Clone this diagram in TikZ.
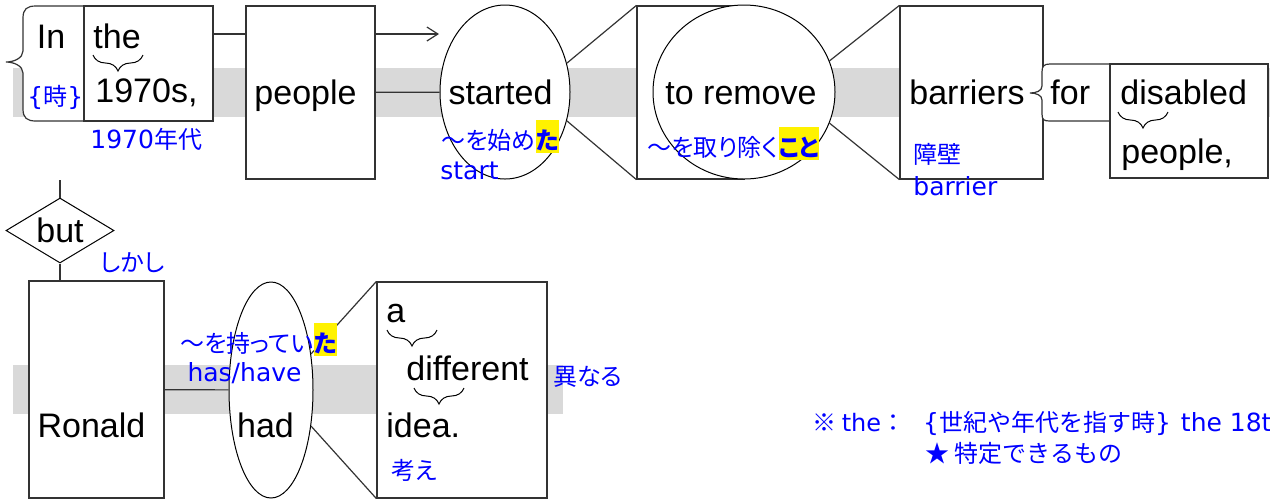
\documentclass[tikz,border=0pt]{standalone}
\usepackage{fontspec}
\setmainfont{Liberation Sans}
\newfontfamily\jpfont[RawFeature=+palt]{Noto Sans CJK JP}
\newfontfamily\jpnote{Noto Sans CJK JP}
\newfontfamily\latfont{DejaVu Sans}
\usetikzlibrary{shapes.geometric,arrows.meta,decorations.pathreplacing}

\begin{document}
\begin{tikzpicture}[x=0.5pt,y=-0.5pt,font=\fontsize{17}{20}\selectfont]
	\tikzstyle{Band}	= [fill=black!15]
	\tikzstyle{Box}		= [rectangle, draw=black!80, fill=white, line width=0.6pt, inner sep=0pt]
	\tikzstyle{Oval}	= [ellipse, draw=black, fill=white, line width=0.5pt, inner sep=0pt]
	\tikzstyle{Link}	= [draw=black!80, line width=0.6pt]
	\tikzstyle{Brace}	= [decorate, decoration={brace, mirror, amplitude=8pt}, line width=0.5pt]
	\tikzstyle{Word}	= [inner sep=0pt, anchor=base west]
	\tikzstyle{Ja}		= [inner sep=0pt, anchor=base west, text=blue, font=\jpfont\fontsize{12}{14}\selectfont]
	\tikzstyle{En}		= [Ja, font=\latfont\fontsize{12.5}{14}\selectfont]
	\tikzstyle{Note}	= [Ja, font=\jpnote\fontsize{12}{14}\selectfont]
	\tikzstyle{Hl}		= [Ja, fill=yellow, text height=14.75pt, text depth=1.75pt, font=\jpfont\bfseries\fontsize{12}{14}\selectfont]

	\useasboundingbox (0,0) rectangle (1270,500);

	% gray bands
	\fill[Band] (13,68) rectangle (1270,117);
	\fill[Band] (13,365) rectangle (563,414);

	% first sentence
	\draw[Link, fill=white] (84,6) -- (36,6) .. controls (27,6) and (23,9) .. (23,18) -- (23,51) .. controls (23,58) and (14,62) .. (6,62) .. controls (14,62) and (23,66) .. (23,73) -- (23,109) .. controls (23,118) and (27,121) .. (36,121) -- (84,121) -- cycle;
	\node (theCell) at (148.5,63.5) [Box, minimum width=64.5pt, minimum height=57.5pt] {};
	\node (people) at (310.5,92.5) [Box, minimum width=64.5pt, minimum height=86.5pt] {};
	\node (started) at (505,92) [Oval, minimum width=65pt, minimum height=87pt] {};
	\node (toBox) at (690.5,92.5) [Box, minimum width=53.5pt, minimum height=86.5pt] {};
	\node (remove) at (744,92) [Oval, minimum width=91pt, minimum height=87pt] {};
	\node (barriers) at (971.5,92.5) [Box, minimum width=71.5pt, minimum height=86.5pt] {};
	\draw[Link, fill=white] (1110,64) -- (1050,64) .. controls (1044,64) and (1042,66) .. (1042,72) -- (1042,86) .. controls (1042,91) and (1036,93) .. (1030,93) .. controls (1036,93) and (1042,95) .. (1042,100) -- (1042,114) .. controls (1042,120) and (1044,121) .. (1050,121) -- (1110,121) -- cycle;
	\node (disBox) at (1189,121) [Box, minimum width=79pt, minimum height=57pt] {};

	\coordinate (arrY) at (0,34);
	\coordinate (arrTip) at (439,34);
	\draw[Link] (theCell.east |- arrY) -- (people.west |- arrY);
	\draw[Link, -{Straight Barb[length=5.5pt, width=7pt]}] (people.east |- arrY) -- (arrTip);
	\draw[Link] (people) -- (started);
	\draw[Link] (started.25) -- (toBox.north west);
	\draw[Link] (started.-25) -- (toBox.south west);
	\draw[Link] (remove.20) -- (barriers.north west);
	\draw[Link] (remove.-20) -- (barriers.south west);

	\node (wIn) at (51,48) [Word, anchor=base] {In};
	\node (wThe) at (93,48) [Word] {the};
	\draw[Brace] (93,55) -- (143,55);
	\node (w1970) at (95,102) [Word] {1970s,};
	\node (wPeople) at (305.5,104) [Word, anchor=base] {people};
	\node (wStarted) at (500.5,104) [Word, anchor=base] {started};
	\node (wRemove) at (741,104) [Word, anchor=base] {to remove};
	\node (wBarriers) at (909,104) [Word] {barriers};
	\node (wFor) at (1050,104) [Word] {for};
	\node (wDisabled) at (1120,104) [Word] {disabled};
	\draw[Brace] (1118,112) -- (1168,112);
	\node (wPeople2) at (1121,163) [Word] {people,};

	\node (jaToki) at (27,105.5) [Ja] {{\latfont\fontsize{12.5}{14}\selectfont\{}時{\latfont\fontsize{12.5}{14}\selectfont\}}};
	\node (ja1970) at (90,148) [Ja] {{\latfont\fontsize{12.5}{14}\selectfont 1970}年代};
	\node (jaStart) at (441,149.5) [Ja] {〜を始め};
	\node (hlStart) at (jaStart.base east) [Hl] {た};
	\node (enStart) at (440,179) [En] {start};
	\node (jaRemove) at (647,156.5) [Ja] {〜を取り除く};
	\node (hlRemove) at (jaRemove.base east) [Hl] {こと};
	\node (jaBarrier) at (913,163.5) [Ja] {障壁};
	\node (enBarrier) at (913,195) [En] {barrier};

	% second sentence
	\coordinate (butTop) at (60,180);
	\node (but) at (60,230.5) [diamond, aspect=1.66, draw=black, fill=white, line width=0.5pt, inner sep=0pt, minimum width=54pt, minimum height=32.5pt] {but};
	\node (ronald) at (96.5,389.5) [Box, minimum width=67.5pt, minimum height=108.5pt] {};
	\node (had) at (271,390) [Oval, minimum width=42pt, minimum height=108pt] {};
	\node (idea) at (462,390) [Box, minimum width=85pt, minimum height=108pt] {};
	\draw[Link] (butTop) -- (but.north);
	\draw[Link] (but.south) -- (but.south |- ronald.north);
	\draw[Link] (ronald) -- (had);
	\draw[Link] (had.42) -- (idea.north west);
	\draw[Link] (had.-42) -- (idea.south west);

	\node (jaShikashi) at (100,271.5) [Ja] {しかし};
	\node (wRonald) at (91.5,437) [Word, anchor=base] {Ronald};
	\node (wHad) at (265.5,437) [Word, anchor=base] {had};
	\node (jaHave) at (180,352.5) [Ja] {〜を持ってい};
	\node (hlHave) at (jaHave.base east) [Hl] {た};
	\node (enHave) at (244.5,381) [En, anchor=base] {has/have};
	\node (wA) at (386,322) [Word] {a};
	\draw[Brace] (387,330) -- (437,330);
	\node (wDifferent) at (406,380) [Word] {different};
	\draw[Brace] (414,388) -- (464,388);
	\node (wIdea) at (386,437) [Word] {idea.};
	\node (jaKangae) at (391,479.5) [Ja] {考え};
	\node (jaKotonaru) at (553,385.5) [Ja] {異なる};

	% note
	\node (note1) at (812,431.5) [Note] {※ {\latfont the}：\hspace{9pt}{\latfont\fontsize{12.5}{14}\selectfont\{}世紀や年代を指す時{\latfont\fontsize{12.5}{14}\selectfont\}}\hspace{5pt}{\latfont\fontsize{12.5}{14}\selectfont the 18t}};
	\node (note2) at (925,462.5) [Note] {★ 特定できるもの};
\end{tikzpicture}
\end{document}
